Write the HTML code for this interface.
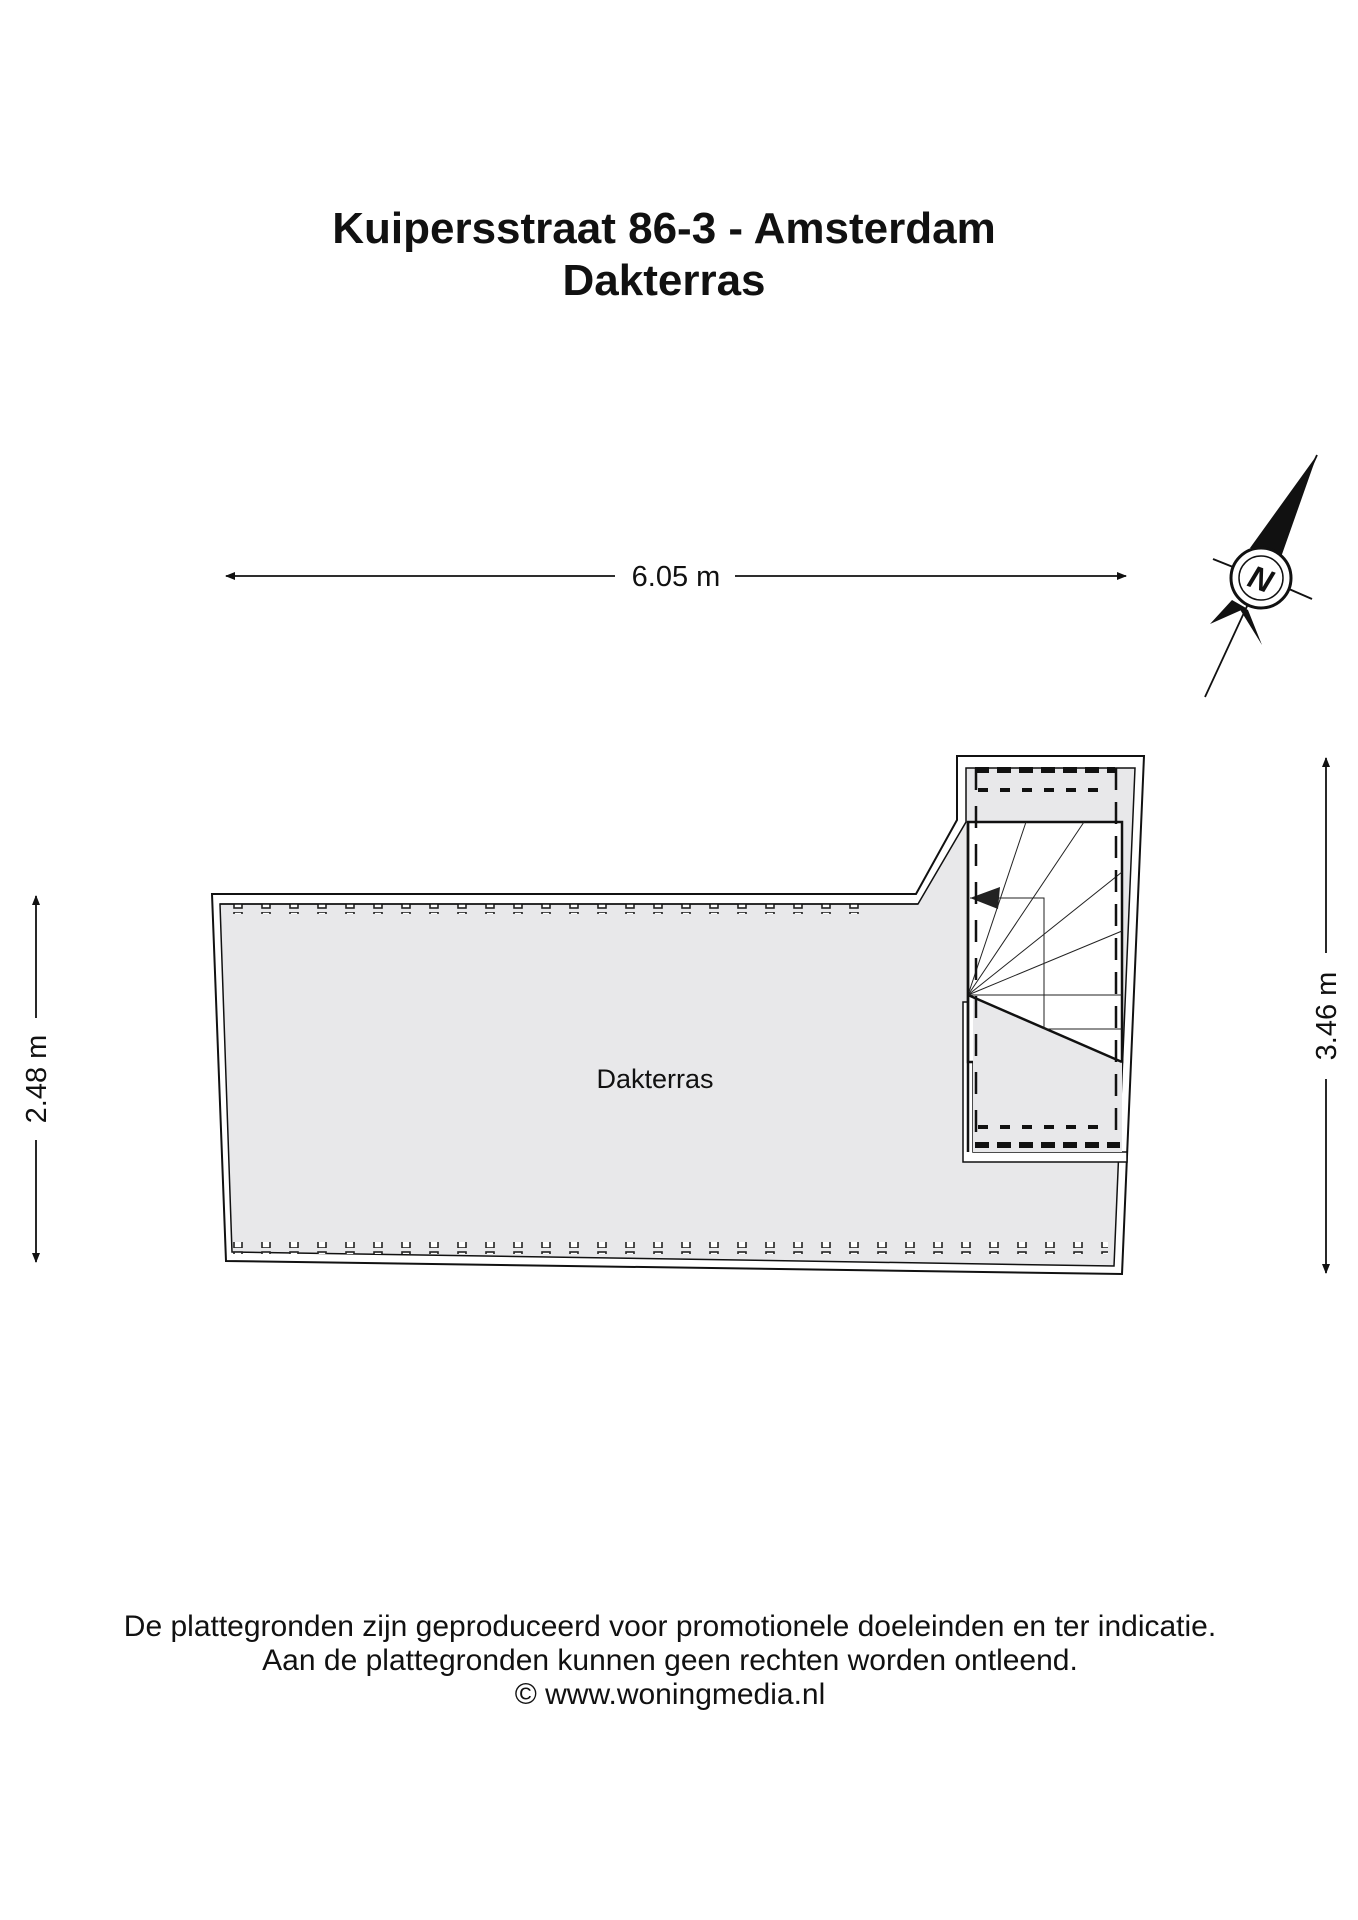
<!DOCTYPE html>
<html><head><meta charset="utf-8"><style>
html,body{margin:0;padding:0;background:#fff;}
svg{display:block;}
text{font-family:"Liberation Sans",sans-serif;fill:#111;}
</style></head><body>
<svg width="1358" height="1920" viewBox="0 0 1358 1920" xmlns="http://www.w3.org/2000/svg">
<defs>
<marker id="ar" markerWidth="10" markerHeight="8" refX="9" refY="4" orient="auto" markerUnits="userSpaceOnUse"><path d="M0,0 L10,4 L0,8 z" fill="#111"/></marker>
<pattern id="nt" x="0" y="0" width="28" height="12" patternUnits="userSpaceOnUse"><rect x="10" y="0" width="8" height="8" fill="#fff" stroke="#222" stroke-width="1.6"/></pattern>
<pattern id="nb" x="0" y="0" width="28" height="12" patternUnits="userSpaceOnUse"><rect x="10" y="4" width="8" height="8" fill="#fff" stroke="#222" stroke-width="1.6"/></pattern>
</defs>
<text x="664" y="243" font-size="44" font-weight="bold" text-anchor="middle">Kuipersstraat 86-3 - Amsterdam</text>
<text x="664" y="295" font-size="44" font-weight="bold" text-anchor="middle">Dakterras</text>

<line x1="615" y1="576" x2="226" y2="576" stroke="#111" stroke-width="1.8" marker-end="url(#ar)"/>
<line x1="735" y1="576" x2="1126" y2="576" stroke="#111" stroke-width="1.8" marker-end="url(#ar)"/>
<text x="676" y="586" font-size="29" text-anchor="middle">6.05 m</text>
<line x1="36" y1="1018" x2="36" y2="896" stroke="#111" stroke-width="1.8" marker-end="url(#ar)"/>
<line x1="36" y1="1140" x2="36" y2="1262" stroke="#111" stroke-width="1.8" marker-end="url(#ar)"/>
<text transform="translate(46,1079) rotate(-90)" font-size="29" text-anchor="middle">2.48 m</text>
<line x1="1326" y1="953" x2="1326" y2="758" stroke="#111" stroke-width="1.8" marker-end="url(#ar)"/>
<line x1="1326" y1="1079" x2="1326" y2="1273" stroke="#111" stroke-width="1.8" marker-end="url(#ar)"/>
<text transform="translate(1336,1016) rotate(-90)" font-size="29" text-anchor="middle">3.46 m</text>

<g>
<line x1="1317" y1="455" x2="1205" y2="697" stroke="#111" stroke-width="1.8"/>
<polygon points="1317,455 1280,560 1250,548" fill="#111"/>
<polygon points="1232,600 1210,624 1246,608" fill="#111"/>
<polygon points="1248,610 1262,645 1236,603" fill="#111"/>
<circle cx="1261" cy="578" r="30" fill="#fff" stroke="#111" stroke-width="3"/>
<circle cx="1261" cy="578" r="22" fill="none" stroke="#111" stroke-width="1.5"/>
<line x1="1213" y1="559" x2="1233" y2="567" stroke="#111" stroke-width="2"/>
<line x1="1289" y1="589" x2="1312" y2="599" stroke="#111" stroke-width="2"/>
<text x="1261" y="590" font-size="32" font-weight="bold" font-style="italic" text-anchor="middle" transform="rotate(20 1261 578)">N</text>
</g>

<polygon points="212,894 916,894 957,820 957,756 1144,756 1122,1274 226,1261" fill="#fff" stroke="#111" stroke-width="2"/>
<polygon points="220,904 918,904 966,822 966,768 1135,768 1114,1266 232,1252" fill="#e8e8ea" stroke="#111" stroke-width="1.5"/>
<rect x="220" y="904" width="640" height="10" fill="url(#nt)"/>
<rect x="228" y="1242" width="880" height="12" fill="url(#nb)"/>
<line x1="220" y1="904" x2="918" y2="904" stroke="#111" stroke-width="1.5"/>
<polygon points="963,1002 973,1002 973,1152 1127,1152 1127,1162 963,1162" fill="#fff" stroke="#111" stroke-width="1.5"/>
<rect x="968" y="822" width="154" height="240" fill="#fff" stroke="#111" stroke-width="2.5"/>
<polygon points="968,995 1122,1062 1122,1152 973,1152 973,995" fill="#e8e8ea"/>
<line x1="968" y1="995" x2="1122" y2="1062" stroke="#111" stroke-width="2.5"/>
<g stroke="#222" stroke-width="1">
<line x1="968" y1="995" x2="1026" y2="822"/>
<line x1="968" y1="995" x2="1084" y2="822"/>
<line x1="968" y1="995" x2="1122" y2="872"/>
<line x1="968" y1="995" x2="1122" y2="931"/>
<line x1="968" y1="995" x2="1122" y2="995"/>
<line x1="1044" y1="1029" x2="1122" y2="1029"/>
<polyline points="970,898 1044,898 1044,1029" fill="none"/>
</g>
<polygon points="970,898 1000,887 998,909" fill="#222"/>
<line x1="968" y1="822" x2="968" y2="1152" stroke="#111" stroke-width="2.5"/>
<line x1="1116" y1="768" x2="1116" y2="1145" stroke="#111" stroke-width="2.5" stroke-dasharray="22,12"/>
<line x1="976" y1="768" x2="976" y2="1145" stroke="#111" stroke-width="2.5" stroke-dasharray="22,16"/>
<line x1="978" y1="790" x2="1110" y2="790" stroke="#111" stroke-width="4" stroke-dasharray="10,12"/>
<line x1="978" y1="1127" x2="1110" y2="1127" stroke="#111" stroke-width="4" stroke-dasharray="10,12"/>
<line x1="975" y1="770" x2="1115" y2="770" stroke="#111" stroke-width="6" stroke-dasharray="14,8"/>
<line x1="975" y1="1145" x2="1120" y2="1145" stroke="#111" stroke-width="6" stroke-dasharray="14,8"/>

<text x="655" y="1088" font-size="27" text-anchor="middle">Dakterras</text>

<text x="670" y="1636" font-size="30" text-anchor="middle">De plattegronden zijn geproduceerd voor promotionele doeleinden en ter indicatie.</text>
<text x="670" y="1670" font-size="30" text-anchor="middle">Aan de plattegronden kunnen geen rechten worden ontleend.</text>
<text x="670" y="1704" font-size="30" text-anchor="middle">© www.woningmedia.nl</text>
</svg>
</body></html>
